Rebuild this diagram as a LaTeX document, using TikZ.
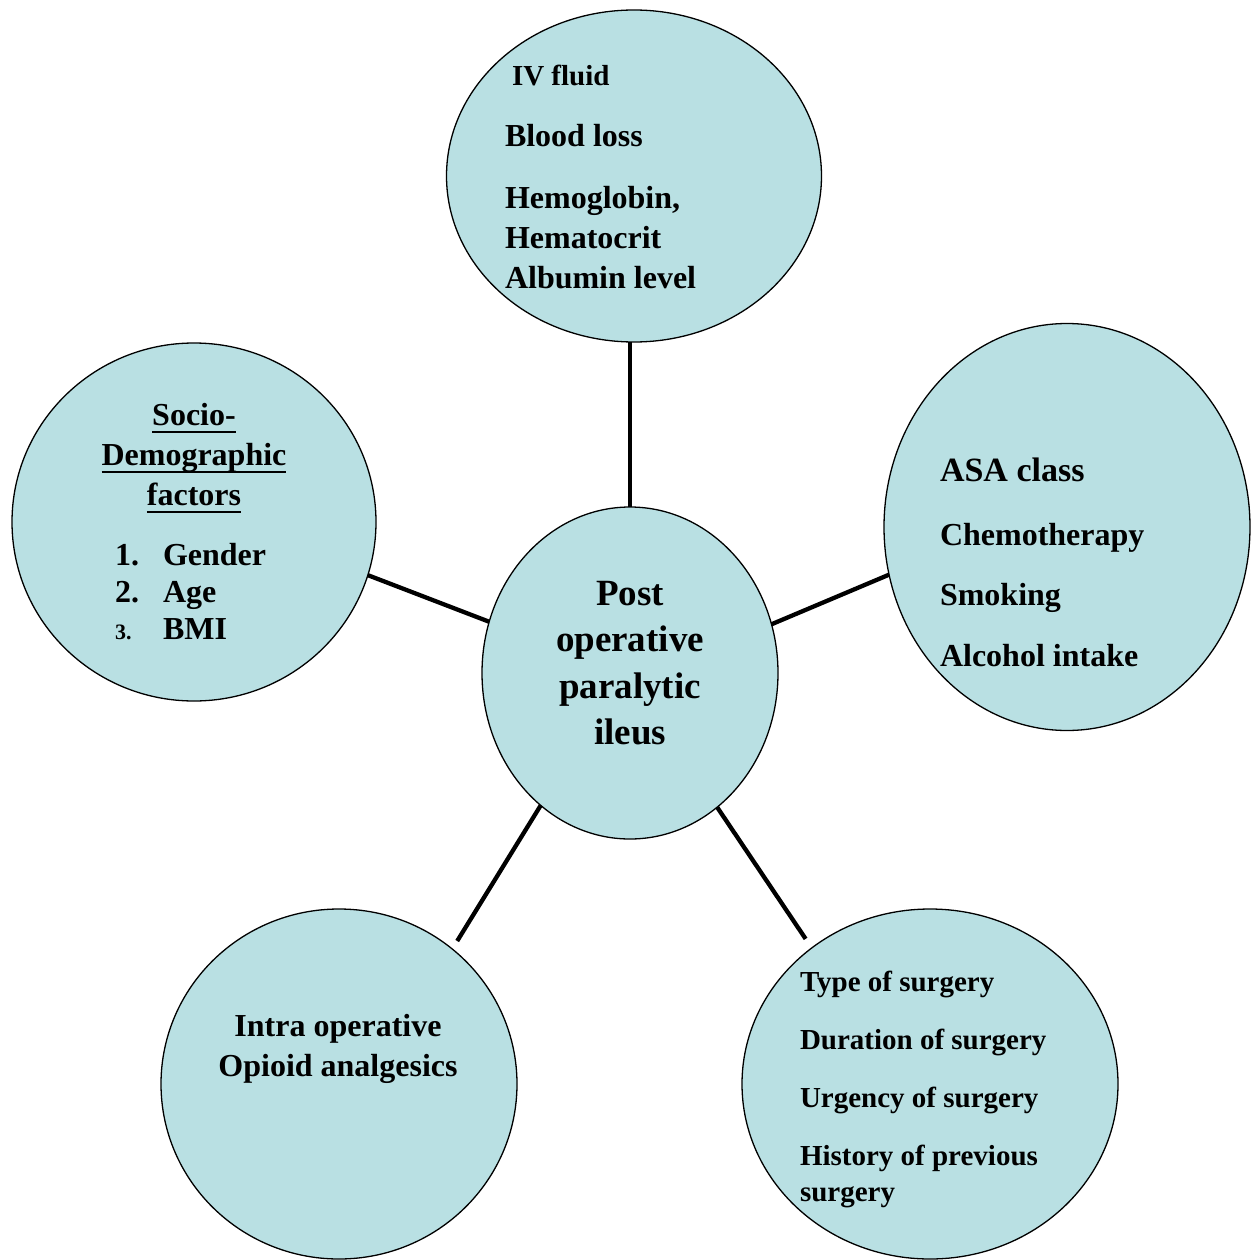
\documentclass[tikz,border=0pt]{standalone}
\usepackage{fontspec}
\setmainfont{Liberation Serif}
\usetikzlibrary{shapes.geometric}
\definecolor{bub}{RGB}{185,224,227}
\begin{document}
\begin{tikzpicture}[x=1pt,y=-1pt,
  bubble/.style={ellipse,draw=black,line width=1.3pt,fill=bub,inner sep=0pt,outer sep=0pt},
  txt/.style={inner sep=0pt,outer sep=0pt,anchor=base west,font=\fontsize{32}{38}\selectfont\bfseries},
  ctxt/.style={txt,anchor=base},
  smalltxt/.style={txt,font=\fontsize{29}{35}\selectfont\bfseries},
  bigtxt/.style={ctxt,font=\fontsize{37}{44}\selectfont\bfseries},
  uline/.style={line width=1.8pt},
  link/.style={line width=4.3pt}]
\path[use as bounding box] (0,0) rectangle (1252,1260);

% bubbles
\node[bubble,minimum width=375pt,minimum height=332pt] (top) at (634,176) {};
\node[bubble,minimum width=366pt,minimum height=407pt] (asa) at (1067,527) {};
\node[bubble,minimum width=364pt,minimum height=358pt] (soc) at (194,522) {};
\node[bubble,minimum width=296pt,minimum height=332pt] (ctr) at (630,673) {};
\node[bubble,minimum width=356pt,minimum height=350pt] (opi) at (339,1084) {};
\node[bubble,minimum width=376pt,minimum height=350pt] (sur) at (930,1084) {};

% connectors
\draw[link] (ctr.north) -- (ctr.north |- top.south);
\draw[link] (ctr.160.1) -- (soc.-17.5);
\draw[link] (ctr.19.8) -- (asa.195.6);
\draw[link,shorten >=9.4pt] (ctr.236.6) -- (opi.50.8);
\draw[link,shorten >=11pt] (ctr.303.1) -- (sur.131.5);

% top bubble text
\node[smalltxt] (t1) at (512,86) {IV fluid};
\node[txt] (t2) at (505,147) {Blood loss};
\node[txt] (t3) at (505,208) {Hemoglobin,};
\node[txt] (t4) at (505,248) {Hematocrit};
\node[txt] (t5) at (505,288) {Albumin level};

% right bubble text
\node[txt,font=\fontsize{34}{40}\selectfont\bfseries] (a1) at (940,481) {ASA class};
\node[txt] (a2) at (940,545) {Chemotherapy};
\node[txt] (a3) at (940,605) {Smoking};
\node[txt] (a4) at (940,666) {Alcohol intake};

% left bubble text
\node[ctxt] (s1) at (194,425) {Socio-};
\node[ctxt] (s2) at (194,465) {Demographic};
\node[ctxt] (s3) at (194,505) {factors};
\draw[uline] ([yshift=-7pt]s1.base west) -- ([yshift=-7pt]s1.base east);
\draw[uline] ([yshift=-7pt]s2.base west) -- ([yshift=-7pt]s2.base east);
\draw[uline] ([yshift=-7pt]s3.base west) -- ([yshift=-7pt]s3.base east);
\node[txt] (n1) at (115,565) {1.};
\node[txt] (g1) at (163,565) {Gender};
\node[txt] (n2) at (115,602) {2.};
\node[txt] (g2) at (163,602) {Age};
\node[txt,font=\fontsize{22}{26}\selectfont\bfseries] (n3) at (115,639) {3.};
\node[txt] (g3) at (163,639) {BMI};

% centre text
\node[bigtxt] (c1) at (630,605) {Post};
\node[bigtxt] (c2) at (630,651) {operative};
\node[bigtxt] (c3) at (630,698) {paralytic};
\node[bigtxt] (c4) at (630,744) {ileus};

% bottom-left text
\node[ctxt] (o1) at (338,1036) {Intra operative};
\node[ctxt] (o2) at (338,1076) {Opioid analgesics};

% bottom-right text
\node[smalltxt] (r1) at (800,991) {Type of surgery};
\node[smalltxt] (r2) at (800,1049) {Duration of surgery};
\node[smalltxt] (r3) at (800,1107) {Urgency of surgery};
\node[smalltxt] (r4) at (800,1165) {History of previous};
\node[smalltxt] (r5) at (800,1201) {surgery};
\end{tikzpicture}
\end{document}
